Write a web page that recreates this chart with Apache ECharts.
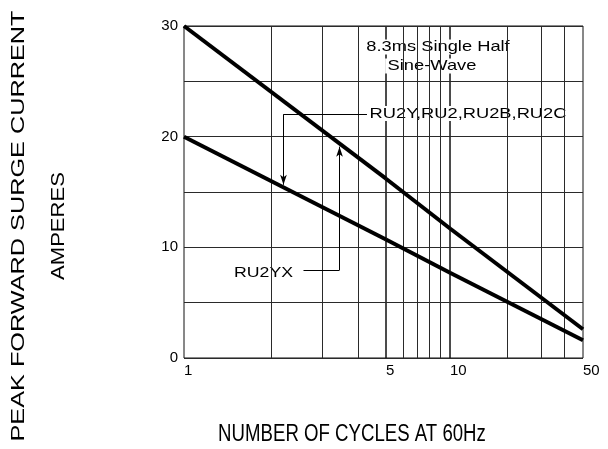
<!DOCTYPE html>
<html><head><meta charset="utf-8">
<script src="https://cdn.jsdelivr.net/npm/echarts@6/dist/echarts.min.js"></script>
<style>html,body{margin:0;padding:0;background:#fff}#c{width:608px;height:449px}</style>
</head><body><div id="c"></div>
<script>
// ---- data ----
const cycles = [1, 5, 10, 50];
const ru2yx = [30, 16.2, 11.7, 2.6];   // upper curve (RU2YX)
const ru2y = [20, 10.7, 7.7, 1.6];     // lower curve (RU2Y,RU2,RU2B,RU2C)
const xGridLines = [2, 3, 4, 5, 6, 7, 8, 9, 10, 20, 30, 40];
const xTickLabels = [1, 5, 10, 50];
const yTickLabels = [0, 10, 20, 30];

// ---- layout: the drawn log scale is uneven, so three log sub-axes ----
const segs = [
  {lo: 1, hi: 5, left: 184, width: 202},
  {lo: 5, hi: 10, left: 386, width: 64},
  {lo: 10, hi: 50, left: 450, width: 133}
];
const FONT = 'Liberation Sans, Arial, sans-serif';
const LINE = '#2a2a2a';

const shown = new Set();
const grids = [], xAxes = [], yAxes = [], series = [];
segs.forEach((s, i) => {
  grids.push({left: s.left, width: s.width, top: 26, height: 332, show: true,
    borderColor: '#111', borderWidth: 1, backgroundColor: 'transparent'});
  const labs = xTickLabels.filter(v => v >= s.lo && v <= s.hi && !shown.has(v));
  labs.forEach(v => shown.add(v));
  xAxes.push({type: 'log', logBase: 10, gridIndex: i, min: s.lo, max: s.hi,
    axisLine: {show: false}, axisTick: {show: false}, splitLine: {show: false},
    axisLabel: {show: labs.length > 0, showMinLabel: true, showMaxLabel: true,
      margin: 5, color: '#000', fontFamily: FONT, fontSize: 15, align: 'left',
      formatter: v => { const m = labs.find(L => Math.abs(v - L) < L * 1e-4); return m === undefined ? '' : String(m); }}});
  yAxes.push({type: 'value', gridIndex: i, min: 0, max: 30, interval: 5,
    axisLine: {show: false}, axisTick: {show: false},
    splitLine: {show: true, lineStyle: {color: LINE, width: 1}},
    axisLabel: {show: i === 0, margin: 6, color: '#000', fontFamily: FONT, fontSize: 15,
      formatter: v => yTickLabels.includes(v) ? String(v) : ''}});
  const pick = vals => cycles.map((c, k) => [c, vals[k]]).filter(p => p[0] >= s.lo && p[0] <= s.hi);
  const gridMarks = xGridLines.filter(v => v > s.lo && v < s.hi).map(v => ({xAxis: v}));
  const leaders = [];
  if (i === 0) {
    leaders.push(
      [{coord: [2.209, 22.02], symbol: 'none'}, {coord: [4.297, 22.02], symbol: 'none'}],
      [{coord: [2.209, 22.02], symbol: 'none'}, {coord: [2.209, 15.65], symbol: 'arrow', symbolSize: [5, 10]}],
      [{coord: [2.591, 7.95], symbol: 'none'}, {coord: [3.453, 7.95], symbol: 'none'}],
      [{coord: [3.453, 7.95], symbol: 'none'}, {coord: [3.453, 19.1], symbol: 'arrow', symbolSize: [5, 10]}]
    );
  }
  series.push({type: 'line', name: 'RU2YX', xAxisIndex: i, yAxisIndex: i, data: pick(ru2yx),
    showSymbol: false, clip: false, z: 3, lineStyle: {color: '#000', width: 4},
    markLine: {silent: true, symbol: 'none', z: 1, animation: false, label: {show: false},
      emphasis: {disabled: true}, lineStyle: {color: LINE, width: 1, type: 'solid'}, data: gridMarks}});
  series.push({type: 'line', name: 'RU2Y', xAxisIndex: i, yAxisIndex: i, data: pick(ru2y),
    showSymbol: false, clip: false, z: 3, lineStyle: {color: '#000', width: 4},
    markLine: {silent: true, symbol: 'none', z: 4, animation: false, label: {show: false},
      emphasis: {disabled: true}, lineStyle: {color: '#000', width: 1, type: 'solid'}, data: leaders}});
});

function txt(text, x, y, size, sx, opts) {
  return Object.assign({type: 'text', x: x, y: y, scaleX: sx, scaleY: 1, silent: true,
    style: {text: text, fontFamily: FONT, fontSize: size, fill: '#000',
      textAlign: 'center', textVerticalAlign: 'middle'}}, opts || {});
}
const graphic = [
  txt('PEAK FORWARD SURGE CURRENT', 18.5, 226, 19, 1.33, {rotation: Math.PI / 2}),
  txt('AMPERES', 58.5, 226, 19, 1.16, {rotation: Math.PI / 2}),
  txt('NUMBER OF CYCLES AT 60Hz', 352, 435, 23, 0.81),
  txt('8.3ms Single Half', 438, 47, 15, 1.22),
  txt('Sine-Wave', 432, 66, 15, 1.22),
  txt('RU2Y,RU2,RU2B,RU2C', 468, 113.5, 15, 1.22),
  txt('RU2YX', 263.5, 273, 15, 1.18)
];
graphic.slice(3).forEach(g => { g.style.backgroundColor = '#fff'; g.style.padding = [0, 2]; });

const chart = echarts.init(document.getElementById('c'), null, {renderer: 'canvas'});
chart.setOption({animation: false, backgroundColor: '#fff', grid: grids, xAxis: xAxes, yAxis: yAxes,
  series: series, graphic: graphic});
</script></body></html>
